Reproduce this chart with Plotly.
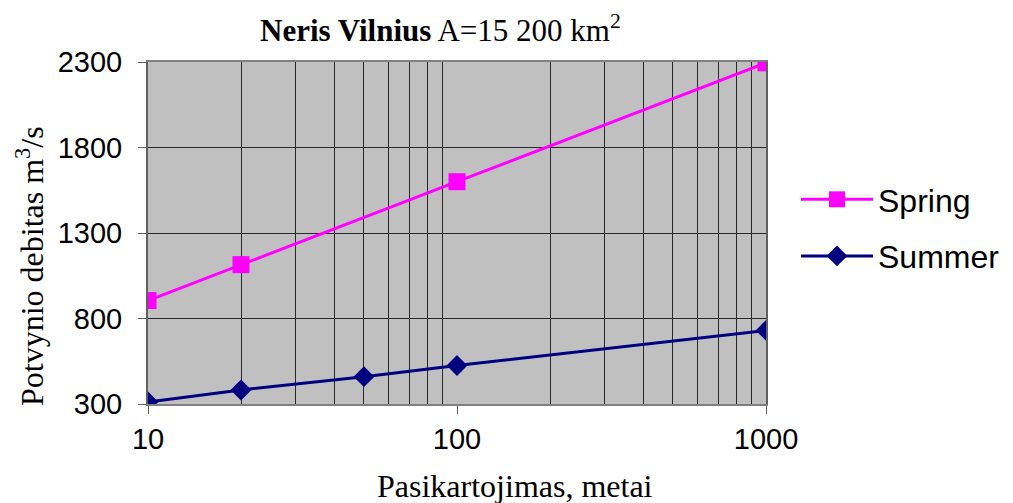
import plotly.graph_objects as go

spring_x = [10, 20, 100, 1000]
spring_y = [905, 1115, 1600, 2295]
summer_x = [10, 20, 50, 100, 1000]
summer_y = [312, 382, 460, 525, 730]
x_ticks = [10, 100, 1000]
x_minor = [20, 30, 40, 50, 60, 70, 80, 90, 200, 300, 400, 500, 600, 700, 800, 900]
y_ticks = [300, 800, 1300, 1800, 2300]

OFF = 8  # page body margin
L, R, T, B = 148 - OFF, 766 - OFF, 62 - OFF, 404 - OFF
W, H = 1013 - OFF, 503 - OFF

def px_x(p):
    return (p - OFF - L) / (R - L)

def px_y(p):
    return (B - (p - OFF)) / (B - T)

fig = go.Figure()
fig.add_trace(go.Scatter(x=spring_x, y=spring_y, name="Spring", mode="lines+markers",
                         legendgroup="a",
                         line=dict(color="#ff00ff", width=3),
                         marker=dict(symbol="square", size=17, color="#ff00ff")))
fig.add_trace(go.Scatter(x=summer_x, y=summer_y, name="Summer", mode="lines+markers",
                         legendgroup="b",
                         line=dict(color="#000080", width=3),
                         marker=dict(symbol="diamond", size=16, color="#000080")))

fig.update_layout(
    width=W, height=H,
    margin=dict(l=L, r=W - R, t=T, b=H - B, autoexpand=False),
    paper_bgcolor="white", plot_bgcolor="#c0c0c0",
    showlegend=True,
    legend=dict(x=px_x(796), y=px_y(172), xanchor="left", yanchor="top",
                font=dict(family="Liberation Sans", size=32, color="black"),
                traceorder="grouped", tracegroupgap=12, itemwidth=72,
                bgcolor="rgba(0,0,0,0)"),
    xaxis=dict(type="log", range=[1, 3], tickvals=x_ticks, ticktext=[str(v) for v in x_ticks],
               showgrid=False, ticks="outside", ticklen=8, tickcolor="#606060",
               tickfont=dict(family="Liberation Sans", size=29, color="black"),
               showline=True, linecolor="#808080", linewidth=2, mirror=True,
               minor=dict(tickvals=x_minor, showgrid=True, gridcolor="#282828", gridwidth=1),
               zeroline=False, automargin=False),
    yaxis=dict(range=[300, 2300], tickvals=y_ticks, showgrid=True, gridcolor="#282828", gridwidth=1,
               ticks="outside", ticklen=8, tickcolor="#606060", ticklabelstandoff=10,
               tickfont=dict(family="Liberation Sans", size=29, color="black"),
               showline=True, linecolor="#606060", linewidth=2, mirror=True, zeroline=False,
               automargin=False),
)
fig.add_annotation(text="<b>Neris Vilnius</b> A=15 200 km<sup>2</sup>", xref="paper", yref="paper",
                   x=px_x(440), y=px_y(28), xanchor="center", yanchor="middle",
                   showarrow=False, font=dict(family="Liberation Serif", size=31, color="black"))
fig.add_annotation(text="Potvynio debitas m<sup>3</sup>/s", xref="paper", yref="paper",
                   x=px_x(30), y=px_y(266), xanchor="center", yanchor="middle", textangle=-90,
                   showarrow=False, font=dict(family="Liberation Serif", size=32, color="black"))
fig.add_annotation(text="Pasikartojimas, metai", xref="paper", yref="paper",
                   x=px_x(515), y=px_y(486), xanchor="center", yanchor="middle",
                   showarrow=False, font=dict(family="Liberation Serif", size=32, color="black"))

fig.write_html("out.html")
